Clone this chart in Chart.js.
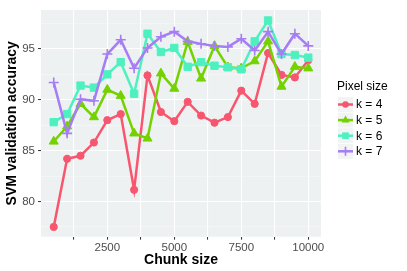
<!DOCTYPE html>
<html>
<head>
<meta charset="utf-8">
<script src="https://cdn.jsdelivr.net/npm/chart.js@4/dist/chart.umd.min.js"></script>
<style>
  html, body { margin: 0; padding: 0; background: #fff; }
  canvas { display: block; }
</style>
</head>
<body>
<canvas id="chart" width="407" height="271"></canvas>
<script>
const chunkSizes = [500, 1000, 1500, 2000, 2500, 3000, 3500, 4000, 4500, 5000,
  5500, 6000, 6500, 7000, 7500, 8000, 8500, 9000, 9500, 10000];
const k4 = [77.5, 84.2, 84.5, 85.8, 88.0, 88.6, 81.15, 92.4, 88.8, 87.9,
  89.8, 88.45, 87.75, 88.3, 90.9, 89.6, 94.6, 92.45, 92.2, 93.9];
const k5 = [85.9, 87.4, 89.6, 88.3, 91.0, 90.4, 86.7, 86.2, 92.6, 91.1,
  95.7, 92.1, 95.3, 93.2, 93.1, 93.8, 95.75, 91.3, 93.25, 93.1];
const k6 = [87.8, 88.6, 91.4, 91.2, 92.5, 93.7, 90.6, 96.5, 94.7, 95.1,
  93.25, 93.7, 93.35, 93.2, 93.0, 95.75, 97.8, 94.5, 94.4, 94.15];
const k7 = [91.7, 86.7, 90.05, 89.9, 94.5, 95.9, 93.1, 95.1, 96.2, 96.7,
  95.75, 95.5, 95.3, 95.2, 96.0, 94.85, 96.7, 94.5, 96.5, 95.3];
const xTicks = [1250, 2500, 3750, 5000, 6250, 7500, 8750, 10000];
const yTicks = [77.5, 80, 82.5, 85, 87.5, 90, 92.5, 95, 97.5];

const tickFont = { family: "'Liberation Sans', Arial, sans-serif", size: 11.5 };
const titleFont = { family: "'Liberation Sans', Arial, sans-serif", size: 14, weight: "bold" };

function series(label, values, color, style, radius) {
  return {
    label: label,
    data: chunkSizes.map((x, i) => ({ x: x, y: values[i] })),
    borderColor: color,
    backgroundColor: color,
    borderWidth: 2.5,
    pointStyle: style,
    pointRadius: radius,
    pointBorderWidth: style === "cross" ? 1.6 : 1,
    pointBackgroundColor: color,
    pointBorderColor: color,
    tension: 0,
  };
}

const datasets = [
  series("k = 4", k4, "#f8566f", "circle", 3.6),
  series("k = 5", k5, "#74d200", "triangle", 5.2),
  series("k = 6", k6, "#4ff0c0", "rect", 5.2),
  series("k = 7", k7, "#a67df4", "cross", 5),
];
// later series painted on top, like ggplot
datasets.forEach((d, i) => (d.order = datasets.length - i));

const panelBg = {
  id: "panelBg",
  beforeDraw(chart) {
    const a = chart.chartArea;
    const c = chart.ctx;
    c.save();
    c.fillStyle = "#edf1f1";
    c.fillRect(a.left, a.top, a.right - a.left, a.bottom - a.top);
    c.restore();
  },
};

function marker(c, style, x, y, r, color) {
  c.fillStyle = color;
  c.strokeStyle = color;
  c.beginPath();
  if (style === "circle") {
    c.arc(x, y, r, 0, Math.PI * 2);
    c.fill();
  } else if (style === "triangle") {
    c.moveTo(x, y - r);
    c.lineTo(x + r * 0.866, y + r * 0.5);
    c.lineTo(x - r * 0.866, y + r * 0.5);
    c.closePath();
    c.fill();
  } else if (style === "rect") {
    const s = r * Math.SQRT1_2;
    c.rect(x - s, y - s, 2 * s, 2 * s);
    c.fill();
  } else {
    c.lineWidth = 1.6;
    c.moveTo(x - r, y);
    c.lineTo(x + r, y);
    c.moveTo(x, y - r);
    c.lineTo(x, y + r);
    c.stroke();
  }
}

const sideLegend = {
  id: "sideLegend",
  afterDraw(chart) {
    const c = chart.ctx;
    const x0 = 337;
    c.save();
    c.fillStyle = "#000";
    c.font = "12px 'Liberation Sans', Arial, sans-serif";
    c.textBaseline = "middle";
    c.textAlign = "left";
    c.fillText("Pixel size", x0, 87);
    chart.data.datasets.forEach((d, i) => {
      const cy = 104.5 + i * 15.6;
      c.fillStyle = "#f2f4f4";
      c.fillRect(x0 + 1, cy - 7.5, 15, 15);
      c.strokeStyle = d.borderColor;
      c.lineWidth = 2.5;
      c.beginPath();
      c.moveTo(x0 + 1, cy);
      c.lineTo(x0 + 16, cy);
      c.stroke();
      marker(c, d.pointStyle, x0 + 8.5, cy, d.pointRadius * 0.9, d.borderColor);
      c.fillStyle = "#000";
      c.font = "12px 'Liberation Sans', Arial, sans-serif";
      c.fillText(d.label, x0 + 19, cy + 0.5);
    });
    c.restore();
  },
};

const isMajor = (v) => Math.abs(v % 2500) < 1e-6 || Math.abs(v % 5) < 1e-6;

function gridOpts() {
  return {
    color: (ctx) => (ctx.tick && isMajor(ctx.tick.value) ? "#ffffff" : "#f8fafa"),
    lineWidth: (ctx) => (ctx.tick && isMajor(ctx.tick.value) ? 1.1 : 0.6),
    drawTicks: true,
    tickLength: 3,
    tickColor: (ctx) => (ctx.tick && isMajor(ctx.tick.value) ? "#333333" : "rgba(0,0,0,0)"),
    tickWidth: 1,
  };
}

new Chart(document.getElementById("chart").getContext("2d"), {
  type: "line",
  data: { datasets: datasets },
  plugins: [panelBg, sideLegend],
  options: {
    responsive: false,
    animation: false,
    layout: { padding: { left: 0, right: 86, top: 4.5, bottom: 0 } },
    plugins: { legend: { display: false }, tooltip: { enabled: false } },
    scales: {
      x: {
        type: "linear",
        min: 25,
        max: 10475,
        border: { display: false },
        grid: gridOpts(),
        afterBuildTicks: (s) => { s.ticks = xTicks.map((v) => ({ value: v })); },
        afterFit: (s) => { s.height = 271 - 236.7; },
        ticks: {
          autoSkip: false,
          maxRotation: 0,
          padding: 1,
          color: "#4d4d4d",
          font: tickFont,
          callback: (v) => (v % 2500 === 0 ? String(v) : ""),
        },
        title: { display: true, text: "Chunk size", color: "#000", font: titleFont, padding: { top: 0, bottom: 2.5 } },
      },
      y: {
        type: "linear",
        min: 76.54,
        max: 98.84,
        border: { display: false },
        grid: gridOpts(),
        afterBuildTicks: (s) => { s.ticks = yTicks.map((v) => ({ value: v })); },
        afterFit: (s) => { s.width = 41; },
        ticks: {
          autoSkip: false,
          padding: 3,
          color: "#4d4d4d",
          font: tickFont,
          callback: (v) => (v % 5 === 0 ? String(v) : ""),
        },
        title: { display: true, text: "SVM validation accuracy", color: "#000", font: titleFont, padding: { top: 4, bottom: 0 } },
      },
    },
  },
});
</script>
</body>
</html>
